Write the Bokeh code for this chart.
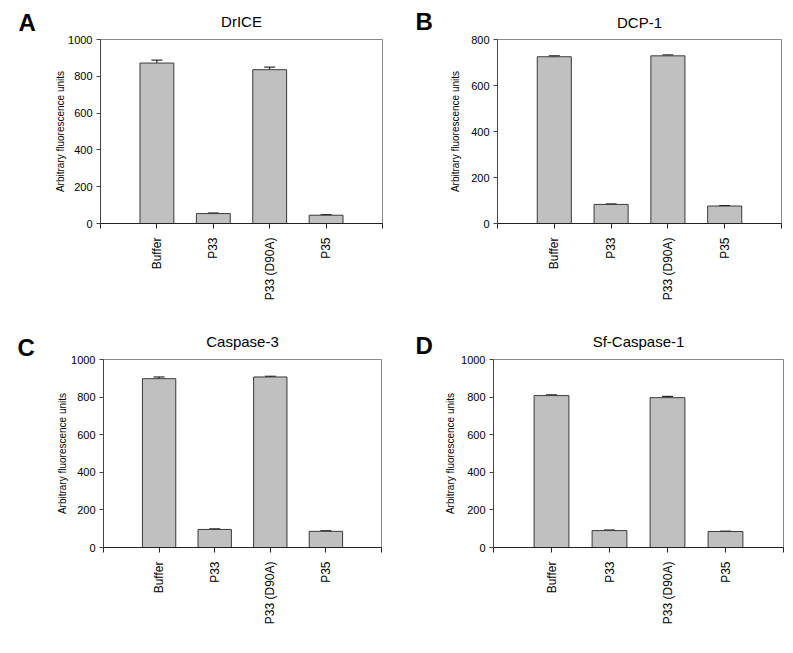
import math
from bokeh.plotting import figure
from bokeh.models import FixedTicker, Whisker, ColumnDataSource, TeeHead, Range1d, Title
from bokeh.layouts import column, row
from bokeh.embed import file_html
from bokeh.resources import INLINE

categories = ["Buffer", "P33", "P33 (D90A)", "P35"]

drice_values = [872, 54, 836, 45]
drice_errors = [16, 3, 14, 3]

dcp1_values = [725, 83, 729, 76]
dcp1_errors = [4, 2, 4, 2]

casp3_values = [898, 96, 907, 86]
casp3_errors = [9, 3, 4, 3]

sfcasp1_values = [808, 90, 797, 85]
sfcasp1_errors = [4, 3, 7, 2]

FONT = "Liberation Sans"


def make_panel(title, letter, values, errors, ymax, width, height, borders,
               letter_pos, ylab_standoff, title_standoff, title_offset):
    bl, br, bt, bb = borders
    p = figure(width=width, height=height, output_backend="svg", toolbar_location=None,
               x_range=Range1d(0, len(categories) + 1), y_range=Range1d(0, ymax),
               min_border_left=bl, min_border_right=br, min_border_top=bt, min_border_bottom=bb)
    xs = list(range(1, len(categories) + 1))
    src = ColumnDataSource(dict(
        x=xs, top=values,
        lower=values,
        upper=[v + e for v, e in zip(values, errors)],
    ))
    p.vbar(x="x", top="top", bottom=0, width=0.6, source=src,
           fill_color="#c0c0c0", line_color="#3a3a3a", line_width=1)
    w = Whisker(source=src, base="x", upper="upper", lower="lower",
                line_color="black", line_width=1,
                upper_head=TeeHead(size=11, line_color="black", line_width=1),
                lower_head=None)
    p.add_layout(w)

    p.title.text = title
    p.title.align = "center"
    p.title.text_font = FONT
    p.title.text_font_style = "normal"
    p.title.text_font_size = "15px"
    p.title.text_color = "black"
    p.title.standoff = title_standoff
    p.title.offset = title_offset

    p.xgrid.visible = False
    p.ygrid.visible = False
    p.outline_line_color = "#888888"
    p.outline_line_width = 1
    p.outline_line_alpha = 1

    p.xaxis.ticker = FixedTicker(ticks=list(range(0, len(categories) + 2)))
    overrides = {0: "", len(categories) + 1: ""}
    for i, c in enumerate(categories):
        overrides[i + 1] = c
    p.xaxis.major_label_overrides = overrides
    p.xaxis.major_label_orientation = math.pi / 2
    p.xaxis.major_label_text_font = FONT
    p.xaxis.major_label_text_font_size = "12px"
    p.xaxis.major_label_text_color = "black"
    p.xaxis.major_label_standoff = 9
    p.xaxis.minor_tick_line_color = None
    p.xaxis.major_tick_in = 0
    p.xaxis.major_tick_out = 5
    p.xaxis.axis_line_color = "#222222"
    p.xaxis.major_tick_line_color = "#222222"

    step = 200
    p.yaxis.ticker = FixedTicker(ticks=list(range(0, ymax + 1, step)))
    p.yaxis.axis_label = "Arbitrary fluorescence units"
    p.yaxis.axis_label_text_font = FONT
    p.yaxis.axis_label_text_font_style = "normal"
    p.yaxis.axis_label_text_font_size = "10px"
    p.yaxis.axis_label_text_color = "black"
    p.yaxis.axis_label_standoff = ylab_standoff
    p.yaxis.major_label_text_font = FONT
    p.yaxis.major_label_text_font_size = "11px"
    p.yaxis.major_label_text_color = "black"
    p.yaxis.major_label_standoff = 4
    p.yaxis.minor_tick_line_color = None
    p.yaxis.major_tick_in = 0
    p.yaxis.major_tick_out = 4
    p.yaxis.axis_line_color = "#444444"
    p.yaxis.major_tick_line_color = "#444444"

    t = Title(text=letter, align="left", offset=letter_pos[0], standoff=letter_pos[1],
              text_font=FONT, text_font_style="bold", text_font_size="24px",
              text_color="black")
    p.add_layout(t, "above")
    return p


pA = make_panel("DrICE", "A", drice_values, drice_errors, 1000, 396, 320,
                (100, 14, 39, 97), (-82, 8), -1, -54, -7)
pB = make_panel("DCP-1", "B", dcp1_values, dcp1_errors, 800, 389, 320,
                (101, 4, 39, 91), (-82, 10), 7, -60, 0)
pC = make_panel("Caspase-3", "C", casp3_values, casp3_errors, 1000, 396, 325,
                (103, 15, 37, 98), (-86, -2), 0, -34, -8)
pD = make_panel("Sf-Caspase-1", "D", sfcasp1_values, sfcasp1_errors, 1000, 389, 325,
                (97, 2, 39, 86), (-78, 2), 2, -42, -3)

layout = column(row(pA, pB), row(pC, pD))

with open("out.html", "w") as f:
    f.write(file_html(layout, INLINE))
